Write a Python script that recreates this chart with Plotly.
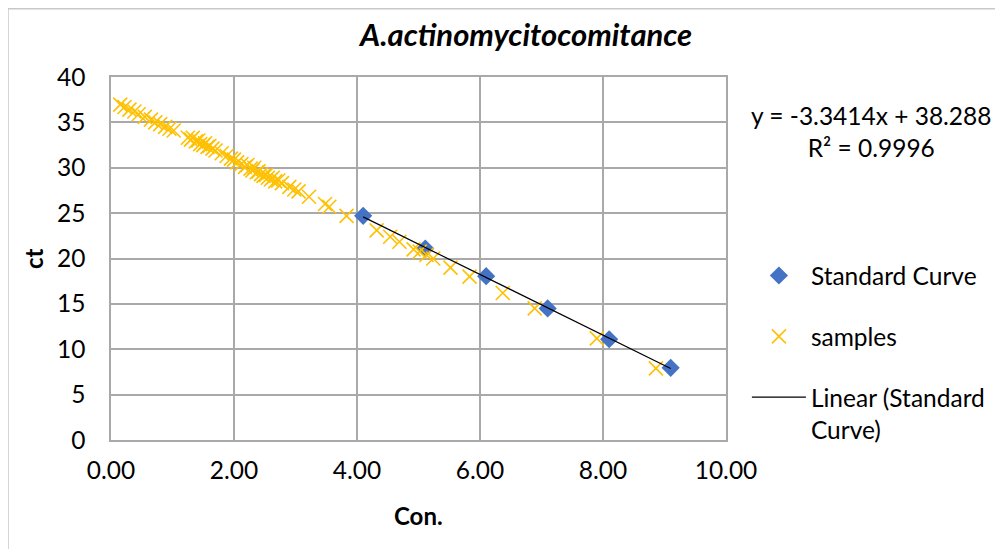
import plotly.graph_objects as go

# ---- data ----
std_x = [4.10, 5.11, 6.10, 7.10, 8.10, 9.10]
std_y = [24.7, 21.1, 18.05, 14.5, 11.1, 7.95]

samp_x = [0.15, 0.22, 0.30, 0.38, 0.45, 0.55, 0.65, 0.72, 0.80, 0.88, 0.95, 1.02,
          1.25, 1.30, 1.33, 1.38, 1.42, 1.45, 1.50, 1.53, 1.57, 1.60, 1.65, 1.70,
          1.80, 1.88, 1.95, 2.00, 2.05,
          2.12, 2.18, 2.22, 2.27, 2.30, 2.33, 2.37, 2.40, 2.44, 2.48, 2.52, 2.55,
          2.60, 2.63, 2.67, 2.72, 2.78,
          2.90, 2.98, 3.05, 3.22, 3.48, 3.55, 3.83,
          4.32, 4.54, 4.69, 4.92, 5.02, 5.13, 5.24, 5.52, 5.83, 6.37, 6.89, 7.90, 8.86]
samp_y = [36.95, 36.7, 36.4, 36.2, 35.9, 35.6, 35.3, 35.0, 34.8, 34.5, 34.3, 34.1,
          33.3, 33.1, 33.3, 32.9, 33.0, 32.6, 32.5, 32.7, 32.3, 32.4, 32.1, 31.9,
          31.6, 31.3, 31.0, 30.9, 30.6,
          30.4, 30.1, 30.3, 29.9, 29.7, 30.0, 29.5, 29.6, 29.3, 29.1, 29.2, 28.9,
          28.7, 28.9, 28.5, 28.6, 28.3,
          27.9, 27.6, 27.4, 26.8, 26.0, 25.7, 24.7,
          23.1, 22.4, 21.85, 21.0, 20.75, 20.4, 20.0, 19.0, 18.0, 16.2, 14.5, 11.2, 7.9]

slope = -3.3414
intercept = 38.288
r2 = 0.9996

x_ticks = [0, 2, 4, 6, 8, 10]
y_ticks = [0, 5, 10, 15, 20, 25, 30, 35, 40]

FONT = "Lato, 'Open Sans', sans-serif"
GRID = "#A9A9A9"
FS = 24.5

trend_x = [min(std_x), max(std_x)]
trend_y = [slope * v + intercept for v in trend_x]

fig = go.Figure()
fig.add_trace(go.Scatter(
    x=std_x, y=std_y, mode="markers", name="Standard Curve",
    marker=dict(symbol="diamond", size=14, color="#4472C4"),
    legendgroup="a"))
fig.add_trace(go.Scatter(
    x=samp_x, y=samp_y, mode="markers", name="samples",
    marker=dict(symbol="x-thin", size=14, color="#FFC000",
                line=dict(color="#FFC000", width=1.6)),
    legendgroup="b"))
fig.add_trace(go.Scatter(
    x=trend_x, y=trend_y, mode="lines", name="Linear (Standard<br>Curve)",
    line=dict(color="black", width=1.2),
    legendgroup="c"))

fig.update_layout(
    width=995, height=541,
    margin=dict(l=103, r=277, t=69, b=109),
    paper_bgcolor="white", plot_bgcolor="white",
    font=dict(family=FONT, size=FS, color="black"),
    showlegend=True,
    legend=dict(x=1.034, y=0.515, xanchor="left", yanchor="top",
                font=dict(size=FS), tracegroupgap=26, itemwidth=54,
                valign="top", bgcolor="rgba(0,0,0,0)"),
    xaxis=dict(range=[0, 10], tickvals=x_ticks, tickformat=".2f",
               showgrid=True, gridcolor=GRID, gridwidth=1.5,
               showline=True, linecolor=GRID, linewidth=1.5, mirror=True,
               zeroline=False, ticks="", ticklabelstandoff=8,
               tickfont=dict(size=FS)),
    yaxis=dict(range=[0, 40], tickvals=y_ticks,
               showgrid=True, gridcolor=GRID, gridwidth=1.5,
               showline=True, linecolor=GRID, linewidth=1.5, mirror=True,
               zeroline=False, ticks="", ticklabelstandoff=19,
               tickfont=dict(size=FS)),
    shapes=[dict(type="rect", xref="paper", yref="paper",
                 x0=-0.1675, x1=1.6, y0=-0.5, y1=1.188,
                 line=dict(color="#C8C8C8", width=1.5), layer="below")],
    annotations=[
        dict(text="<b><i>A.actinomycitocomitance</i></b>", xref="paper", yref="paper",
             x=0.673, y=1.118, showarrow=False, font=dict(size=31),
             xanchor="center", yanchor="middle"),
        dict(text="<b>ct</b>", xref="paper", yref="paper", x=-0.127, y=0.501,
             showarrow=False, textangle=-90, font=dict(size=24),
             xanchor="center", yanchor="middle"),
        dict(text="<b>Con.</b>", xref="paper", yref="paper", x=0.5, y=-0.209,
             showarrow=False, font=dict(size=24),
             xanchor="center", yanchor="middle"),
        dict(text=f"y = {slope}x + {intercept}<br>R² = {r2}",
             xref="paper", yref="paper", x=1.237, y=0.851, showarrow=False,
             align="center", font=dict(size=FS),
             xanchor="center", yanchor="middle"),
    ],
)

fig.write_html("out.html")
